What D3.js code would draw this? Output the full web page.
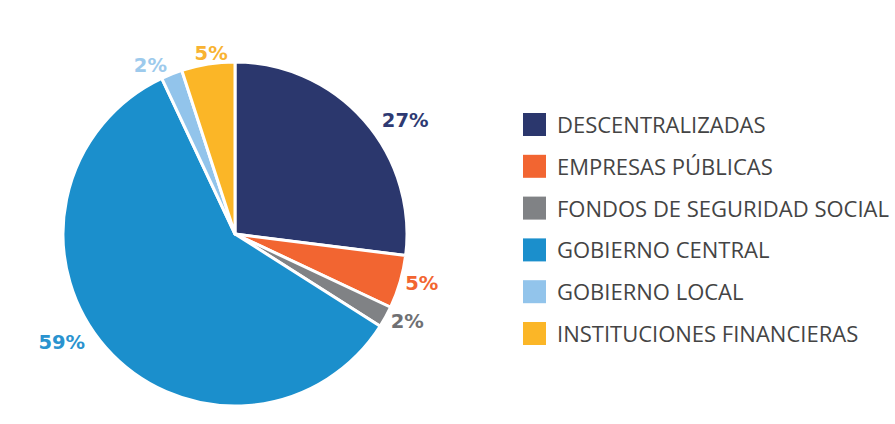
<html>
<meta charset="utf-8" />
<head>
<title>Distribución por sector</title>
<script src="https://cdn.jsdelivr.net/npm/d3@7"></script>
<style>
	body { margin: 0; background: #fff; }
	svg { display: block; }
</style>
</head>
<body>
<svg width="895" height="424"></svg>
<script>
// datos del gráfico
const categories = ['DESCENTRALIZADAS', 'EMPRESAS PÚBLICAS', 'FONDOS DE SEGURIDAD SOCIAL', 'GOBIERNO CENTRAL', 'GOBIERNO LOCAL', 'INSTITUCIONES FINANCIERAS'];
const values = [27, 5, 2, 59, 2, 5];
const labels = ['27%', '5%', '2%', '59%', '2%', '5%'];

const sliceColors = ['#2b376d', '#f26531', '#808285', '#1b8fcc', '#92c4eb', '#fbb627'];
const labelColors = ['#2e3a72', '#f26531', '#6f7073', '#2a93cf', '#9dcaec', '#f8b332'];

// ajuste de las etiquetas respecto al centro del arco (grados, radio)
const labelShift = [7.5, -1.5, -2, 9.5, -5, 1.5];
const labelRadius = [205, 193, 193, 204, 189, 183];

const svg = d3.select('svg');
const cx = 235, cy = 234, r = 172;

const color = d3.scaleOrdinal().domain(categories).range(sliceColors);

const pie = d3.pie().sort(null).value((d, i) => values[i]);
const arcs = pie(categories);
const arc = d3.arc().innerRadius(0).outerRadius(r);

const g = svg.append('g').attr('transform', 'translate(' + cx + ',' + cy + ')');

g.selectAll('path.slice')
	.data(arcs).enter()
	.append('path')
	.attr('class', 'slice')
	.attr('d', arc)
	.style('fill', d => color(d.data))
	.style('stroke', '#fff')
	.style('stroke-width', '3px')
	.style('stroke-linejoin', 'round');

g.selectAll('text.pct')
	.data(arcs).enter()
	.append('text')
	.attr('class', 'pct')
	.attr('transform', (d, i) => {
		const a = (d.startAngle + d.endAngle) / 2 + labelShift[i] * Math.PI / 180;
		const rr = labelRadius[i];
		return 'translate(' + (rr * Math.sin(a)) + ',' + (-rr * Math.cos(a)) + ')';
	})
	.attr('text-anchor', 'middle')
	.attr('dy', '0.36em')
	.style('font-family', 'Verdana, "DejaVu Sans", sans-serif')
	.style('font-weight', 'bold')
	.style('font-size', '19.5px')
	.style('fill', (d, i) => labelColors[i])
	.text((d, i) => labels[i]);

// leyenda
const yLegend = d3.scalePoint().domain(categories).range([124.5, 333.5]);

const legend = svg.selectAll('g.legend')
	.data(categories).enter()
	.append('g')
	.attr('class', 'legend')
	.attr('transform', d => 'translate(523,' + yLegend(d) + ')');

legend.append('rect')
	.attr('x', 0)
	.attr('y', -11.5)
	.attr('width', 23)
	.attr('height', 23)
	.style('fill', d => color(d));

legend.append('text')
	.attr('x', 34)
	.attr('y', 8.5)
	.style('font-family', '"Open Sans", sans-serif')
	.style('font-size', '22px')
	.style('fill', '#444')
	.text(d => d);
</script>
</body>
</html>
